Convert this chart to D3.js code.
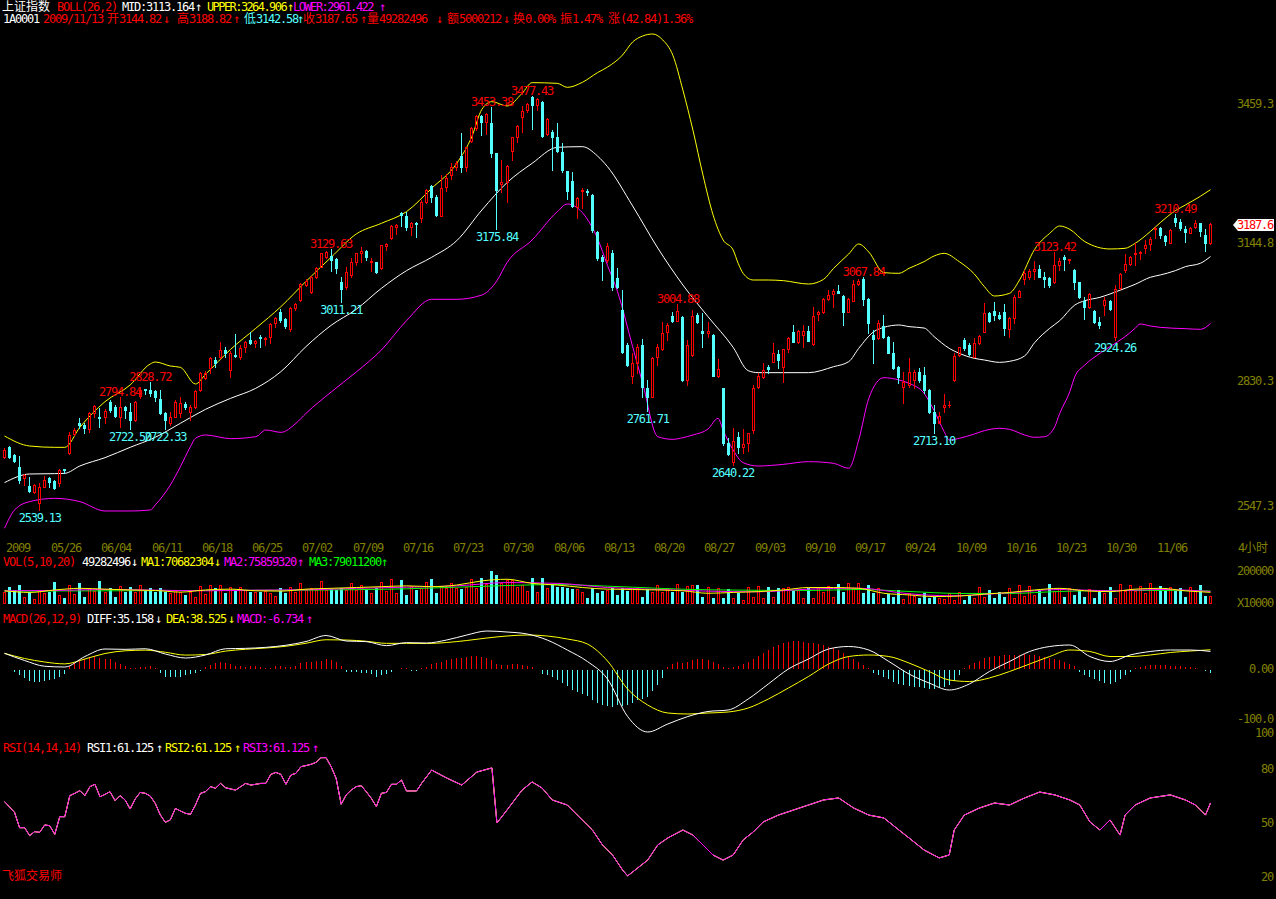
<!DOCTYPE html>
<html><head><meta charset="utf-8">
<script src="https://cdn.jsdelivr.net/npm/d3@7"></script>
<style>
html,body{margin:0;padding:0;background:#000;overflow:hidden}
svg{display:block}
text{font-family:"DejaVu Sans Mono","Noto Sans CJK SC",monospace;font-size:12px}
</style></head><body>
<svg id="c" width="1276" height="899"></svg>
<script>
// ---------------- DATA ----------------
const ohlc = [
[2659.2,2678.1,2657.0,2674.3],[2681.9,2684.2,2655.5,2659.2],[2663.0,2665.3,2647.9,2650.2],[2636.5,2660.7,2600.3,2606.3],
[2610.1,2619.2,2594.9,2617.6],[2592.7,2613.9,2579.8,2582.1],[2579.8,2596.4,2576.1,2594.9],[2553.4,2598.7,2539.13,2589.7],
[2591.2,2615.4,2589.7,2606.3],[2610.1,2613.9,2591.2,2602.5],[2604.0,2606.3,2585.1,2587.4],[2598.7,2631.2,2592.7,2629.0],
[2630.5,2632.0,2621.4,2629.0],[2666.8,2716.0,2665.3,2708.4],[2710.7,2723.5,2708.4,2719.7],[2736.4,2746.2,2723.5,2731.1],
[2731.1,2734.9,2712.2,2723.5],[2721.2,2761.3,2716.0,2757.5],[2757.5,2776.5,2750.0,2774.2],[2750.0,2768.9,2725.8,2747.0],
[2748.5,2766.6,2734.9,2763.6],[2784.0,2787.8,2761.3,2765.1],[2772.7,2776.5,2750.0,2751.5],[2750.0,2794.84,2727.3,2772.7],
[2772.7,2774.2,2746.2,2765.1],[2761.3,2780.2,2722.50,2742.4],[2742.4,2786.3,2740.9,2784.0],[2796.9,2818.0,2791.6,2810.5],
[2812.0,2812.7,2801.4,2810.5],[2810.5,2828.72,2796.9,2802.9],[2809.0,2810.5,2786.3,2795.4],[2789.3,2810.5,2756.0,2757.5],
[2759.1,2761.3,2722.33,2742.4],[2734.9,2761.3,2731.1,2748.5],[2750.0,2787.8,2748.5,2784.0],[2757.5,2795.4,2750.0,2780.2],
[2778.7,2784.0,2766.6,2772.7],[2761.3,2776.5,2742.4,2772.7],[2772.7,2810.5,2768.9,2809.0],[2810.5,2852.1,2809.0,2848.3],
[2836.9,2854.3,2834.7,2849.8],[2859.6,2884.6,2848.3,2882.3],[2878.5,2884.6,2863.4,2871.0],[2886.1,2920.1,2882.3,2901.2],
[2901.2,2908.8,2886.1,2895.2],[2855.9,2899.7,2840.7,2895.2],[2889.9,2937.5,2886.1,2887.6],[2884.6,2912.6,2880.0,2906.5],
[2907.3,2921.6,2897.4,2918.6],[2923.9,2942.8,2914.8,2916.4],[2916.4,2923.9,2908.8,2921.6],[2931.5,2935.2,2908.8,2927.7],
[2925.4,2930.0,2912.6,2927.7],[2930.0,2963.2,2916.4,2960.2],[2961.7,2975.3,2954.2,2973.1],[2986.7,2993.5,2965.5,2969.3],
[2970.8,2973.1,2950.4,2955.7],[2948.1,2999.5,2945.1,2995.7],[2995.7,3007.1,2992.0,3004.8],[3014.7,3052.5,3013.2,3050.9],
[3048.7,3061.5,3046.4,3057.8],[3033.6,3069.1,3029.8,3067.6],[3066.1,3088.8,3063.8,3086.5],[3090.3,3122.0,3088.8,3120.5],
[3113.0,3126.6,3109.2,3124.3],[3114.5,3129.63,3081.2,3105.4],[3106.9,3109.2,3076.7,3086.5],[3056.3,3066.1,3011.21,3038.9],
[3043.4,3090.3,3038.9,3078.9],[3071.4,3109.2,3067.6,3101.6],[3101.6,3122.0,3094.1,3120.5],[3122.0,3135.7,3101.6,3126.6],
[3126.6,3128.1,3105.4,3113.0],[3100.1,3109.2,3081.2,3103.1],[3100.1,3101.6,3075.2,3078.9],[3086.5,3139.5,3084.2,3139.5],
[3137.2,3143.2,3128.1,3140.9],[3154.6,3184.0,3153.0,3182.5],[3181.0,3187.1,3164.4,3184.0],[3211.3,3214.3,3182.5,3206.7],
[3205.2,3215.1,3173.5,3181.0],[3181.0,3192.4,3162.1,3188.6],[3190.1,3192.4,3158.4,3187.1],[3199.9,3241.5,3192.4,3237.7],
[3237.7,3265.7,3235.5,3264.2],[3274.0,3275.6,3237.7,3249.1],[3249.1,3252.9,3205.2,3207.5],[3206.0,3298.2,3205.2,3268.0],
[3271.8,3300.5,3262.7,3290.7],[3298.2,3326.2,3288.4,3315.6],[3317.1,3330.0,3309.6,3326.2],[3341.4,3392.8,3305.8,3317.1],
[3315.6,3362.5,3308.1,3361.0],[3376.1,3407.9,3373.9,3404.1],[3404.1,3434.4,3400.3,3432.1],[3432.1,3434.4,3389.0,3419.2],
[3417.7,3438.1,3391.3,3436.6],[3415.5,3453.38,3338.3,3348.9],[3347.4,3348.9,3175.84,3264.2],[3277.8,3332.3,3260.4,3283.1],
[3283.1,3320.9,3237.7,3318.6],[3353.4,3385.2,3332.3,3383.7],[3385.2,3411.7,3373.9,3409.4],[3429.1,3454.8,3396.5,3444.2],
[3445.7,3462.4,3441.9,3459.3],[3475.9,3477.43,3401.8,3457.0],[3457.0,3472.2,3445.7,3469.9],[3464.6,3466.9,3383.7,3386.7],
[3391.3,3426.8,3389.0,3424.5],[3396.5,3400.3,3309.6,3383.7],[3385.2,3415.5,3351.2,3353.4],[3351.2,3370.1,3305.8,3309.6],
[3307.3,3308.1,3243.0,3262.7],[3284.6,3305.8,3226.4,3227.9],[3226.4,3249.1,3199.9,3246.8],[3261.2,3268.0,3222.6,3264.2],
[3262.7,3265.7,3252.9,3259.7],[3252.9,3255.2,3169.7,3173.5],[3169.7,3171.2,3105.4,3109.2],[3113.0,3116.8,3060.0,3103.9],
[3105.4,3143.2,3101.6,3137.2],[3120.5,3128.1,3037.3,3044.9],[3063.8,3086.5,3041.1,3044.9],[2992.0,3037.3,2893.6,2897.4],
[2912.5,2916.3,2864.9,2867.2],[2842.2,2893.6,2825.6,2871.0],[2871.0,2914.8,2849.8,2908.8],[2912.5,2925.4,2795.3,2818.0],
[2814.3,2833.2,2761.71,2795.3],[2795.3,2886.1,2793.8,2882.3],[2886.1,2914.8,2867.2,2908.8],[2902.7,2965.5,2901.2,2940.5],
[2942.8,2961.7,2923.9,2957.9],[2978.3,2988.2,2965.5,2967.8],[2967.8,3004.88,2966.2,2990.4],[2976.8,2978.3,2831.6,2833.2],
[2833.2,2923.9,2821.8,2912.5],[2889.9,2992.0,2887.6,2979.1],[2980.6,2984.4,2963.2,2965.5],[2945.1,2984.4,2908.8,2939.0],
[2939.0,2965.5,2929.9,2945.1],[2935.2,2936.7,2842.2,2842.2],[2842.2,2880.0,2840.7,2857.4],[2814.3,2815.8,2685.7,2689.5],
[2689.5,2700.8,2663.0,2665.3],[2647.9,2723.5,2640.22,2695.5],[2704.6,2715.9,2666.8,2681.9],[2680.4,2721.2,2666.8,2688.0],
[2689.5,2713.7,2672.8,2712.2],[2719.7,2821.8,2713.7,2814.3],[2816.5,2849.8,2814.3,2842.2],[2839.2,2871.0,2836.9,2855.8],
[2861.9,2867.2,2848.3,2857.4],[2874.7,2916.3,2873.2,2893.6],[2892.1,2901.2,2859.6,2878.5],[2863.4,2903.5,2829.4,2902.7],
[2902.7,2929.9,2897.4,2927.7],[2942.8,2957.9,2918.6,2920.1],[2920.1,2946.6,2917.8,2945.1],[2935.2,2957.9,2908.8,2945.1],
[2945.1,2955.7,2920.9,2922.4],[2914.8,2998.0,2913.3,2978.3],[2982.9,2989.7,2969.3,2988.2],[2988.2,3018.4,2984.4,3016.1],
[3016.1,3037.3,3014.6,3026.0],[3028.3,3038.8,2999.5,3035.8],[3035.8,3048.7,3029.8,3031.3],[3024.5,3026.0,2957.9,2988.2],
[2988.2,3018.4,2986.7,3016.1],[3013.1,3060.0,3011.5,3050.9],[3050.9,3061.5,3048.7,3058.5],[3061.5,3067.84,3003.3,3016.1],
[3016.1,3018.4,2940.5,2961.7],[2935.2,2946.6,2871.0,2925.4],[2927.7,2969.3,2925.4,2963.2],[2955.7,2980.6,2927.7,2929.9],
[2929.9,2933.0,2893.6,2895.2],[2893.6,2920.1,2857.4,2859.6],[2863.4,2864.9,2825.6,2839.2],[2818.0,2852.1,2780.2,2829.4],
[2821.8,2882.3,2818.0,2852.1],[2833.2,2855.9,2814.3,2852.1],[2852.1,2859.6,2829.4,2833.2],[2844.5,2863.4,2802.9,2810.5],
[2810.5,2812.0,2759.1,2761.3],[2761.3,2776.5,2713.10,2734.9],[2736.4,2761.3,2734.9,2751.5],[2771.2,2801.4,2761.3,2776.5],
[2775.7,2786.3,2772.7,2777.2],[2833.2,2893.7,2831.7,2887.6],[2889.9,2908.8,2887.6,2907.3],[2923.9,2929.2,2901.2,2905.0],
[2912.6,2917.9,2889.9,2892.1],[2886.1,2927.7,2884.6,2916.3],[2917.9,2935.2,2914.8,2933.0],[2942.8,3007.1,2941.3,2985.9],
[2985.9,2988.2,2965.5,2967.8],[2990.5,3010.9,2969.3,2980.6],[2980.6,2988.2,2970.8,2973.1],[2988.2,3005.6,2935.2,2950.4],
[2948.1,2976.8,2931.5,2973.1],[2973.1,3026.0,2961.7,3022.2],[3022.2,3037.3,3020.7,3035.1],[3061.5,3082.7,3051.0,3076.7],
[3067.6,3084.2,3061.5,3080.4],[3080.4,3103.9,3061.5,3085.0],[3084.2,3094.1,3066.1,3067.6],[3066.1,3078.9,3043.4,3061.5],
[3063.8,3066.1,3044.9,3048.7],[3056.2,3123.42,3054.0,3094.1],[3094.1,3109.2,3082.7,3103.9],[3111.5,3116.7,3082.7,3106.9],
[3106.2,3108.4,3097.8,3107.7],[3082.7,3084.2,3038.9,3056.2],[3056.2,3056.2,3018.4,3020.7],[3013.1,3022.2,2970.8,2998.0],
[2998.0,3029.8,2996.5,3028.3],[2990.5,2992.0,2963.2,2965.5],[2965.5,2975.3,2950.4,2957.9],[3003.3,3022.2,2980.6,3014.6],
[3013.1,3014.6,2992.0,2993.5],[2931.5,3048.7,2924.26,3038.9],[3041.1,3075.2,3038.9,3073.6],[3082.7,3119.0,3078.9,3096.3],
[3096.3,3114.5,3094.1,3113.0],[3119.0,3143.2,3094.1,3122.0],[3122.0,3125.8,3106.9,3124.3],[3131.9,3150.8,3120.5,3139.4],
[3141.7,3158.3,3128.1,3152.3],[3175.0,3181.0,3154.6,3178.8],[3177.2,3179.5,3154.6,3162.1],[3159.8,3162.1,3139.4,3149.3],
[3144.7,3175.0,3143.2,3173.5],[3199.9,3210.49,3182.5,3192.4],[3192.4,3197.7,3173.5,3177.2],[3175.0,3182.5,3147.0,3169.7],
[3167.4,3179.5,3165.9,3177.2],[3179.5,3196.1,3177.2,3188.6],[3190.1,3190.1,3159.8,3172.0],[3162.1,3175.0,3126.6,3144.81],
[3144.82,3188.82,3142.58,3187.65]
];

const priceTicks = [3459.3, 3144.8, 2830.3, 2547.3];
const dateTicks = [[0,"2009"],[9,"05/26"],[19,"06/04"],[29,"06/11"],[39,"06/18"],[49,"06/25"],[59,"07/02"],[69,"07/09"],
  [79,"07/16"],[89,"07/23"],[99,"07/30"],[109,"08/06"],[119,"08/13"],[129,"08/20"],[139,"08/27"],[149,"09/03"],[159,"09/10"],
  [169,"09/17"],[179,"09/24"],[189,"10/09"],[199,"10/16"],[209,"10/23"],[219,"10/30"],[229,"11/06"]];

const highMarks = [[23,2794.84],[29,2828.72],[65,3129.63],[97,3453.38],[105,3477.43],[134,3004.88],[171,3067.84],[209,3123.42],[233,3210.49]];
const lowMarks  = [[7,2539.13],[25,2722.50],[32,2722.33],[67,3011.21],[98,3175.84],[128,2761.71],[145,2640.22],[185,2713.10],[221,2924.26]];

const bollUpper = [[0,2706.1],[5,2683.4],[10,2680.4],[12,2680.4],[15,2725.8],[20,2784.0],[25,2821.8],[29,2869.5],[30,2874.0],[33,2864.9],
  [35,2861.9],[38,2824.1],[40,2846.0],[45,2902.7],[50,2950.4],[55,2999.5],[60,3057],[65,3111.5],[70,3164.4],[75,3188.6],[80,3215.1],
  [85,3268.0],[90,3324.7],[93,3385.2],[95,3447.2],[97,3464.6],[100,3454.8],[103,3483.5],[105,3507.7],[110,3506.2],[112,3497.1],
  [115,3508.5],[118,3530.4],[120,3543],[123,3570.5],[125,3600],[127,3613.6],[129,3618.1],[131,3604.5],[133,3570],[135,3491],
  [137,3400],[139,3298],[141,3208],[143,3151],[145,3128],[146,3098],[147,3075],[149,3060],[152,3060],[155,3058.5],[160,3050.9],
  [163,3061.5],[165,3086.5],[168,3119.0],[170,3141.7],[172,3123.5],[175,3076.7],[178,3075.2],[180,3086.5],[183,3101.6],[185,3114.5],
  [187,3120.5],[190,3101.6],[193,3073.6],[195,3044.9],[197,3023.7],[200,3029.8],[202,3060.0],[205,3129.6],[208,3165.9],[210,3182.5],
  [212,3175.0],[215,3147.0],[220,3130.4],[223,3131.9],[225,3143.2],[228,3169.7],[230,3190.1],[233,3217.3],[235,3230.2],[238,3250],[240,3264.906]];
const bollMid = [[0,2600.3],[5,2619.9],[10,2620.7],[12,2621.4],[15,2638.1],[20,2657.0],[25,2680.4],[30,2703.1],[35,2734.9],[40,2766.6],
  [45,2791.6],[50,2814.3],[55,2852.1],[60,2909],[65,2957.2],[70,2993.5],[75,3041.1],[80,3081.2],[85,3111.5],[90,3149.3],[95,3218.8],
  [100,3280.9],[105,3324.7],[110,3361.0],[115,3362.5],[118,3341.4],[120,3317.1],[125,3228],[130,3132.6],[135,3048.7],[140,2976.8],
  [145,2907.3],[148,2854.3],[150,2849.8],[155,2849.8],[160,2849.8],[165,2863.4],[168,2874.7],[170,2905.0],[173,2942.8],[175,2952.6],
  [178,2957.9],[180,2954.2],[183,2951.1],[185,2931.5],[188,2905.0],[190,2893.7],[193,2882.3],[195,2878.5],[198,2873.2],[200,2875.5],
  [203,2887.6],[205,2917.9],[208,2950.4],[210,2967.8],[213,3003.3],[215,3013.1],[218,3020.7],[220,3028.3],[223,3041.1],[225,3050.2],
  [228,3066.1],[230,3071.4],[233,3081.2],[235,3090.3],[238,3098],[240,3113.164]];
const bollLower = [[0,2496.7],[2,2538.2],[5,2557.2],[10,2564.7],[15,2557.2],[20,2536.0],[25,2536.0],[29,2538.2],[30,2549.6],[33,2594.9],
  [35,2636.5],[37,2681.9],[38,2700.8],[40,2708.4],[45,2700.1],[50,2704.6],[52,2719.7],[55,2714.4],[58,2734.9],[60,2757.5],[65,2805.9],
  [70,2851.3],[75,2901.2],[80,2967.8],[85,3016.2],[90,3016.2],[95,3026.0],[98,3058.5],[100,3099.4],[105,3150.8],[110,3215.1],[112,3232.4],
  [115,3212.8],[118,3154.6],[120,3093],[122,3033.5],[125,2908.8],[127,2825.6],[130,2704.6],[133,2698.5],[135,2702.3],[137,2708.4],
  [140,2722.0],[142,2746.2],[143,2719.7],[145,2674.4],[147,2645.6],[150,2638.0],[155,2641.8],[160,2647.9],[165,2644.1],[168,2632.8],
  [170,2697.0],[172,2791.6],[175,2838.4],[178,2833.2],[180,2825.6],[183,2802.9],[185,2763.6],[187,2716.0],[188,2697.0],[190,2700.8],
  [193,2710.6],[195,2718.2],[198,2723.5],[200,2721.2],[203,2708.4],[205,2703.1],[207,2704.6],[209,2727.3],[210,2757.5],[212,2806.7],
  [213,2840.7],[215,2867.2],[218,2893.7],[220,2908.8],[223,2931.5],[225,2950.4],[226,2960.2],[228,2955.7],[230,2952.6],[235,2949.6],
  [238,2948.1],[240,2961.422]];

// VOL (thousands)
const volume = [70700,101000,84800,115100,44400,70700,30300,84800,64600,74700,135300,54500,34300,115100,58600,125200,44400,94900,78800,139400,
  74700,99000,44400,111100,74700,105000,74700,115100,84800,99000,74700,94900,74700,64600,84800,70700,54500,74700,44400,111100,
  58600,115100,94900,115100,64600,105000,84800,105000,84800,74700,74700,70700,78800,64600,50500,99000,64600,105000,74700,125200,
  84800,99000,84800,139400,84800,90900,84800,99000,84800,125200,84800,115100,90900,64600,94900,135300,78800,151500,64600,145400,
  54500,111100,84800,94900,135300,151500,64600,105000,94900,125200,94900,90900,105000,151500,99000,159600,119200,198000,175700,125200,
  145400,145400,105000,115100,78800,159600,74700,159600,94900,115100,105000,105000,94900,90900,90900,74700,34300,99000,64600,78800,
  84800,99000,54500,99000,78800,99000,99000,44400,90900,74700,115100,74700,94900,74700,121200,74700,109100,115100,115100,44400,
  105000,38400,99000,38400,90900,34300,64600,24200,105000,44400,109100,38400,105000,44400,94900,94900,105000,84800,84800,34300,
  99000,34300,105000,74700,111100,44400,119200,74700,125200,94900,125200,64600,115100,64600,99000,34300,58600,44400,84800,30300,
  64600,50500,34300,64600,38400,44400,34300,30300,64600,24200,70700,24200,54500,34300,105000,44400,84800,34300,74700,44400,
  94900,38400,115100,50500,109100,54500,84800,44400,119200,78800,94900,44400,99000,54500,84800,44400,90900,34300,74700,64600,
  105000,34300,119200,78800,115100,78800,111100,64600,125200,84800,111100,94900,105000,78800,99000,44400,105000,84800,115100,50500,49282];
const volMA5 = [[0,80000],[5,70000],[10,85000],[15,95000],[20,90000],[25,85000],[30,82000],[35,72000],[40,85000],[45,90000],[50,80000],
  [55,78000],[60,90000],[65,95000],[70,100000],[75,105000],[80,110000],[85,105000],[90,115000],[95,140000],[100,150000],[105,125000],
  [110,115000],[115,100000],[120,90000],[125,88000],[130,85000],[135,80000],[140,65000],[145,70000],[150,75000],[155,85000],[160,100000],
  [165,100000],[170,95000],[175,65000],[180,55000],[185,45000],[190,48000],[195,60000],[200,70000],[205,85000],[210,95000],[215,80000],
  [220,75000],[225,90000],[230,95000],[235,80000],[240,70682]];
const volMA10 = [[0,80000],[10,82000],[20,88000],[30,84000],[40,80000],[50,84000],[60,86000],[70,95000],[80,102000],[90,110000],[100,130000],
  [110,125000],[120,100000],[130,88000],[140,78000],[150,74000],[160,90000],[170,96000],[180,62000],[188,50000],[200,68000],[210,88000],
  [220,80000],[230,88000],[240,75859]];
const volMA20 = [[0,78000],[20,80000],[40,82000],[60,84000],[80,92000],[100,112000],[110,118000],[120,108000],[140,86000],[160,82000],
  [170,88000],[180,76000],[190,64000],[200,64000],[210,76000],[220,82000],[230,82000],[240,79011]];

const macdDiff = [[0,31.3],[4,17],[8,5.5],[12,4],[16,25],[20,40],[24,39.3],[28,40.5],[32,30],[36,22],[40,28],[44,40.5],[48,41.3],
  [52,43.3],[56,47.5],[60,55],[64,67],[68,56],[72,54.7],[76,46.7],[80,52.7],[84,52],[88,58],[92,68],[96,76],[100,74],[104,70],
  [108,58],[112,38],[116,15],[120,-20],[124,-95],[128,-126],[132,-110],[136,-95],[140,-85],[144,-82],[148,-60],[152,-30],[156,0],
  [160,20],[164,40],[168,45],[172,38],[176,15],[180,-10],[184,-28],[188,-42],[192,-30],[196,-5],[200,15],[204,35],[208,45],
  [212,48],[216,25],[220,15],[224,28],[228,35],[232,38],[236,38],[240,35.158]];
const macdDea = [[0,31.3],[4,21],[8,14],[12,10.2],[16,20],[20,31],[24,36.4],[28,37.7],[32,33.5],[36,27.8],[40,29],[44,35.8],
  [48,39.5],[52,42],[56,45.5],[60,51.5],[64,58.5],[68,58],[72,55.5],[76,51.3],[80,51.3],[84,51],[88,53],[92,57],[96,62],[100,66],
  [104,68],[108,66],[112,60],[116,50],[120,16],[124,-40],[128,-72],[132,-88],[136,-90],[140,-88],[144,-86],[148,-78],[152,-60],
  [156,-38],[160,-15],[164,10],[168,25],[172,28],[176,25],[180,12],[184,-5],[188,-22],[192,-25],[196,-18],[200,-5],[204,10],
  [208,25],[212,38],[216,35],[220,25],[224,25],[228,28],[232,33],[236,36],[240,38.525]];
const macdHist = [0,0,-3.3,-10,-16.7,-21.3,-23.3,-23.3,-21.3,-20,-18.7,-13.3,-8,6.7,12,16.7,20,23.3,26.7,21.3,20,20,14.7,10,6.7,1.3,2,3.3,3.3,5.3,
  1.3,-5.3,-13.3,-14.7,-13.3,-13.3,-10,-8,-6.7,-1.3,3.3,8,12,13.3,12,10,6.7,6.7,3.3,5.3,5.3,3.3,1.3,2.7,5.3,5.3,3.3,3.3,5.3,12,
  13.3,14.7,16.7,16.7,20,18.7,13.3,6.7,-3.3,-3.3,-4.7,-5.3,-6.7,-8,-13.3,-10,-8,-3.3,0,1.3,1.3,-2,-2,2,
  5,10,12,15,18,20,22,22,24,26,26,24,22,18,10,8,8,10,10,8,6,4,0,-8,-10,-14,-20,-26,-32,-40,-44,-48,-52,-60,-66,-70,-72,-74,-70,-72,
  -70,-66,-60,-58,-54,-42,-30,-15,5,10,14,12,14,18,20,20,18,14,10,4,2,4,6,10,14,20,26,32,38,44,48,52,54,56,56,54,52,52,50,48,44,
  42,38,32,26,20,14,8,2,-6,-10,-14,-18,-24,-28,-30,-32,-34,-34,-36,-38,-38,-36,-34,-30,-22,-10,2,8,12,16,22,24,26,26,28,28,28,28,
  30,28,28,26,24,22,20,18,14,10,6,-4,-10,-14,-18,-22,-26,-28,-24,-18,-10,-4,2,4,6,8,8,8,8,6,6,6,5,4,2,0,-2,-6.734];

const rsi = [[0,61.9],[2,55.9],[3,47.4],[4,47.4],[5,43.0],[6,45.2],[7,44.8],[8,48.9],[9,48.5],[10,43.7],[11,53.5],[12,53.5],[13,65.2],
  [14,66.5],[15,68.0],[16,65.2],[17,70.2],[18,71.5],[19,64.6],[20,65.9],[21,67.4],[22,62.4],[23,65.2],[24,62.8],[25,57.8],[26,63.3],
  [27,67.0],[28,66.5],[29,65.0],[30,60.9],[31,54.5],[32,50.4],[33,51.7],[34,58.1],[35,56.7],[36,55.4],[37,54.8],[38,60.0],[39,66.5],
  [40,67.4],[41,70.2],[42,69.3],[43,72.0],[44,69.6],[45,68.9],[46,68.3],[47,70.2],[48,72.0],[49,71.1],[50,71.5],[51,72.0],[52,72.0],
  [53,77.0],[54,78.1],[55,77.0],[56,71.5],[57,76.7],[58,77.6],[59,81.3],[60,81.9],[61,82.6],[62,83.7],[63,86.3],[64,86.3],[65,81.3],
  [66,74.8],[67,60.4],[68,65.6],[69,68.3],[70,70.2],[71,70.7],[72,67.4],[73,63.7],[74,59.1],[75,66.5],[76,67.0],[77,71.5],[78,71.5],
  [79,73.9],[80,67.8],[81,67.8],[82,67.8],[83,72.0],[85,79.4],[88,75],[91,71.1],[94,78.3],[97,80.6],[98,50],[100,57.2],[103,68.3],
  [105,72.8],[107,69.4],[109,62.8],[112,60],[114,54.4],[117,46.1],[119,37.8],[121,32.2],[123,23.9],[124,20.6],[126,25],[128,29.4],
  [130,37.8],[132,41.7],[135,46.1],[137,43.3],[139,37.8],[141,32.2],[143,29.4],[145,32.2],[147,40.6],[149,45],[151,50.6],[154,54.4],
  [157,57.2],[160,60],[163,62.8],[166,63.9],[169,58.3],[172,54.4],[175,52.8],[178,46.1],[180,41.7],[183,35],[186,30.6],[188,32.2],
  [189,46.1],[191,54.4],[194,58.3],[197,61.1],[200,60],[203,63.9],[206,67.2],[209,65.6],[212,62.8],[214,60],[216,50.6],[218,46.1],
  [220,51.7],[222,43.3],[223,54.4],[225,60],[228,63.9],[232,65.6],[235,62.8],[237,60],[239,54.4],[240,61.125]];
const rsiTicks = [100, 80, 50, 20];
const macdTicks = [[0,"0.00"],[-100,"-100.0"]];

// ---------------- DRAW ----------------
const RED="#ff0000", CYAN="#54ffff", YEL="#ffff00", MAG="#ff00ff", WHITE="#ffffff", GREEN="#00ff00", OLIVE="#808000";
const svg = d3.select("#c");
svg.append("rect").attr("width",1276).attr("height",899).attr("fill","#000");

const n = ohlc.length;
const x = d3.scalePoint().domain(d3.range(n)).range([4, 1210]);
const yP = d3.scaleLinear().domain([2547.3, 3459.3]).range([506, 104]);
const yV = d3.scaleLinear().domain([0, 200000]).range([604, 571]);
const yM = d3.scaleLinear().domain([-100, 0]).range([719, 669]);
const yR = d3.scaleLinear().domain([20, 80]).range([877, 769]);
const px = i => Math.round(x(i));

function txt(g, xx, yy, str, color, opt={}) {
  const chars = Array.from(str);
  const w = chars.map(ch => /[\u2E80-\uFFFF]/.test(ch) ? 12 : 6);
  const k = opt.width ? opt.width / d3.sum(w) : 1;
  const total = d3.sum(w) * k;
  let cx = opt.anchor === "end" ? xx - total : opt.anchor === "middle" ? xx - total / 2 : xx;
  const xs = [];
  w.forEach(v => { xs.push(cx.toFixed(1)); cx += v * k; });
  return g.append("text").attr("x", xs.join(" ")).attr("y", yy).attr("fill", color).text(str);
}

const defs = svg.append("defs");
defs.append("clipPath").attr("id","clipMain").append("rect").attr("x",0).attr("y",28).attr("width",1218).attr("height",504);
defs.append("clipPath").attr("id","clipMacd").append("rect").attr("x",0).attr("y",626).attr("width",1218).attr("height",112);
defs.append("clipPath").attr("id","clipRsi").append("rect").attr("x",0).attr("y",755).attr("width",1218).attr("height",130);

// ----- BOLL lines -----
const gm = svg.append("g").attr("clip-path","url(#clipMain)");
const lineP = d3.line().x(d => x(d[0]) + 0.5).y(d => yP(d[1])).curve(d3.curveMonotoneX);
[[bollLower, MAG],[bollMid, WHITE],[bollUpper, YEL]].forEach(([arr, col]) =>
  gm.append("path").attr("d", lineP(arr)).attr("fill","none").attr("stroke",col).attr("stroke-width",1));

// ----- candles -----
const gc = gm.append("g").attr("shape-rendering","crispEdges");
ohlc.forEach((d, i) => {
  const [o, h, l, c] = d;
  const cx = px(i);
  const yT = Math.round(yP(Math.max(o, c))), yB = Math.round(yP(Math.min(o, c)));
  const yH = Math.round(yP(h)), yL = Math.round(yP(l));
  if (c >= o) {
    if (yH < yT) gc.append("line").attr("x1",cx+0.5).attr("x2",cx+0.5).attr("y1",yH).attr("y2",yT).attr("stroke",RED);
    if (yL > yB) gc.append("line").attr("x1",cx+0.5).attr("x2",cx+0.5).attr("y1",yB+1).attr("y2",yL+1).attr("stroke",RED);
    if (yB - yT >= 2) gc.append("rect").attr("x",cx-0.5).attr("y",yT+0.5).attr("width",2).attr("height",yB-yT).attr("fill","none").attr("stroke",RED);
    else gc.append("rect").attr("x",cx-1).attr("y",yT).attr("width",3).attr("height",Math.max(1,yB-yT+1)).attr("fill",RED);
  } else {
    gc.append("line").attr("x1",cx+0.5).attr("x2",cx+0.5).attr("y1",yH).attr("y2",yL+1).attr("stroke",CYAN);
    gc.append("rect").attr("x",cx-1).attr("y",yT).attr("width",3).attr("height",Math.max(1,yB-yT+1)).attr("fill",CYAN);
  }
});

// ----- texts layer -----
const gt = svg.append("g");
txt(gt, 2, 11, "上证指数", WHITE);
txt(gt, 57, 11, "BOLL(26,2)", RED);
txt(gt, 122, 11, "MID:3113.164", WHITE); txt(gt, 195, 11, "↑", WHITE);
txt(gt, 207, 11, "UPPER:3264.906", YEL, {width:79}); txt(gt, 287, 11, "↑", YEL);
txt(gt, 293, 11, "LOWER:2961.422", MAG, {width:80}); txt(gt, 379, 11, "↑", MAG);

txt(gt, 3, 23, "1A0001", WHITE);
txt(gt, 43, 23, "2009/11/13", RED);
txt(gt, 107, 23, "开3144.82", RED); txt(gt, 163, 23, "↓", RED);
txt(gt, 177, 23, "高3188.82", RED); txt(gt, 233, 23, "↑", RED);
txt(gt, 244, 23, "低3142.58", CYAN); txt(gt, 297, 23, "↑", CYAN);
txt(gt, 303, 23, "收3187.65", RED); txt(gt, 360, 23, "↑", RED);
txt(gt, 367, 23, "量49282496", RED); txt(gt, 436, 23, "↓", RED);
txt(gt, 447, 23, "额5000212", RED); txt(gt, 503, 23, "↓", RED);
txt(gt, 513, 23, "换0.00%", RED);
txt(gt, 560, 23, "振1.47%", RED);
txt(gt, 608, 23, "涨(42.84)1.36%", RED);

priceTicks.forEach(v => txt(gt, 1273, yP(v) + 4, v.toFixed(1), OLIVE, {anchor:"end"}));
const lastC = ohlc[n-1][3];
const ly = Math.round(yP(lastC)) + 1;
gt.append("path").attr("d", `M1233,${ly} L1238,${ly-6} L1274,${ly-6} L1274,${ly+6} L1238,${ly+6} Z`).attr("fill","#ffffff");
txt(gt, 1273, ly + 4, (Math.floor(lastC * 10) / 10).toFixed(1), RED, {anchor:"end"});

dateTicks.forEach(([i, s]) => txt(gt, px(i) + 2, 552, s, OLIVE));
txt(gt, 1238, 552, "4小时", OLIVE);

highMarks.forEach(([i, v]) => txt(gt, x(i) + 0.5, Math.round(yP(v)) - 1, v.toFixed(2), RED, {anchor:"middle"}));
lowMarks.forEach(([i, v]) => txt(gt, x(i) + 0.5, Math.round(yP(v)) + 12, v.toFixed(2), CYAN, {anchor:"middle"}));

// ----- VOL panel -----
txt(gt, 3, 566, "VOL(5,10,20)", RED);
txt(gt, 82, 566, "49282496", WHITE); txt(gt, 131, 566, "↓", WHITE);
txt(gt, 141, 566, "MA1:70682304", YEL); txt(gt, 214, 566, "↓", YEL);
txt(gt, 224, 566, "MA2:75859320", MAG); txt(gt, 297, 566, "↑", MAG);
txt(gt, 309, 566, "MA3:79011200", GREEN); txt(gt, 381, 566, "↑", GREEN);
txt(gt, 1273, 575, "200000", OLIVE, {anchor:"end"});
txt(gt, 1273, 607, "X10000", OLIVE, {anchor:"end"});
const gv = svg.append("g");
const gvb = gv.append("g").attr("shape-rendering","crispEdges");
volume.forEach((v, i) => {
  const [o,,,c] = ohlc[i];
  const cx = px(i), yT = Math.round(yV(v)), yB = Math.round(yV(0));
  if (c >= o) gvb.append("rect").attr("x",cx-0.5).attr("y",yT+0.5).attr("width",2).attr("height",Math.max(0,yB-yT-1)).attr("fill","none").attr("stroke",RED);
  else gvb.append("rect").attr("x",cx-1).attr("y",yT).attr("width",3).attr("height",yB-yT).attr("fill",CYAN);
});
const lineV = d3.line().x(d => x(d[0]) + 0.5).y(d => yV(d[1])).curve(d3.curveMonotoneX);
[[volMA20, GREEN],[volMA10, MAG],[volMA5, YEL]].forEach(([arr,col]) =>
  gv.append("path").attr("d", lineV(arr)).attr("fill","none").attr("stroke",col));

// ----- MACD panel -----
txt(gt, 3, 623, "MACD(26,12,9)", RED);
txt(gt, 87, 623, "DIFF:35.158", WHITE); txt(gt, 155, 623, "↓", WHITE);
txt(gt, 166, 623, "DEA:38.525", YEL); txt(gt, 228, 623, "↓", YEL);
txt(gt, 237, 623, "MACD:-6.734", MAG); txt(gt, 306, 623, "↑", MAG);
macdTicks.forEach(([v, s]) => txt(gt, 1273, yM(v) + 4, s, OLIVE, {anchor:"end"}));
const gmc = svg.append("g").attr("clip-path","url(#clipMacd)");
const gh = gmc.append("g").attr("shape-rendering","crispEdges");
macdHist.forEach((v, i) => {
  if (Math.abs(v) < 0.5) return;
  const y0 = Math.round(yM(0)), y1 = Math.round(yM(v));
  gh.append("line").attr("x1",px(i)+0.5).attr("x2",px(i)+0.5)
    .attr("y1", v > 0 ? y1 : y0 + 1).attr("y2", v > 0 ? y0 : y1 + 1)
    .attr("stroke", v > 0 ? RED : CYAN);
});
const lineM = d3.line().x(d => x(d[0]) + 0.5).y(d => yM(d[1])).curve(d3.curveMonotoneX);
gmc.append("path").attr("d", lineM(macdDea)).attr("fill","none").attr("stroke",YEL);
gmc.append("path").attr("d", lineM(macdDiff)).attr("fill","none").attr("stroke",WHITE);

// ----- RSI panel -----
txt(gt, 3, 752, "RSI(14,14,14)", RED);
txt(gt, 87, 752, "RSI1:61.125", WHITE); txt(gt, 156, 752, "↑", WHITE);
txt(gt, 165, 752, "RSI2:61.125", YEL); txt(gt, 234, 752, "↑", YEL);
txt(gt, 243, 752, "RSI3:61.125", MAG); txt(gt, 312, 752, "↑", MAG);
rsiTicks.forEach(v => txt(gt, 1273, yR(v) + 4, String(v), OLIVE, {anchor:"end"}));
const gr = svg.append("g").attr("clip-path","url(#clipRsi)");
const lineR = d3.line().x(d => x(d[0]) + 0.5).y(d => yR(d[1]));
[WHITE, YEL, MAG].forEach(col => gr.append("path").attr("d", lineR(rsi)).attr("fill","none").attr("stroke",col));

txt(gt, 2, 880, "飞狐交易师", RED);
</script>
</body></html>
